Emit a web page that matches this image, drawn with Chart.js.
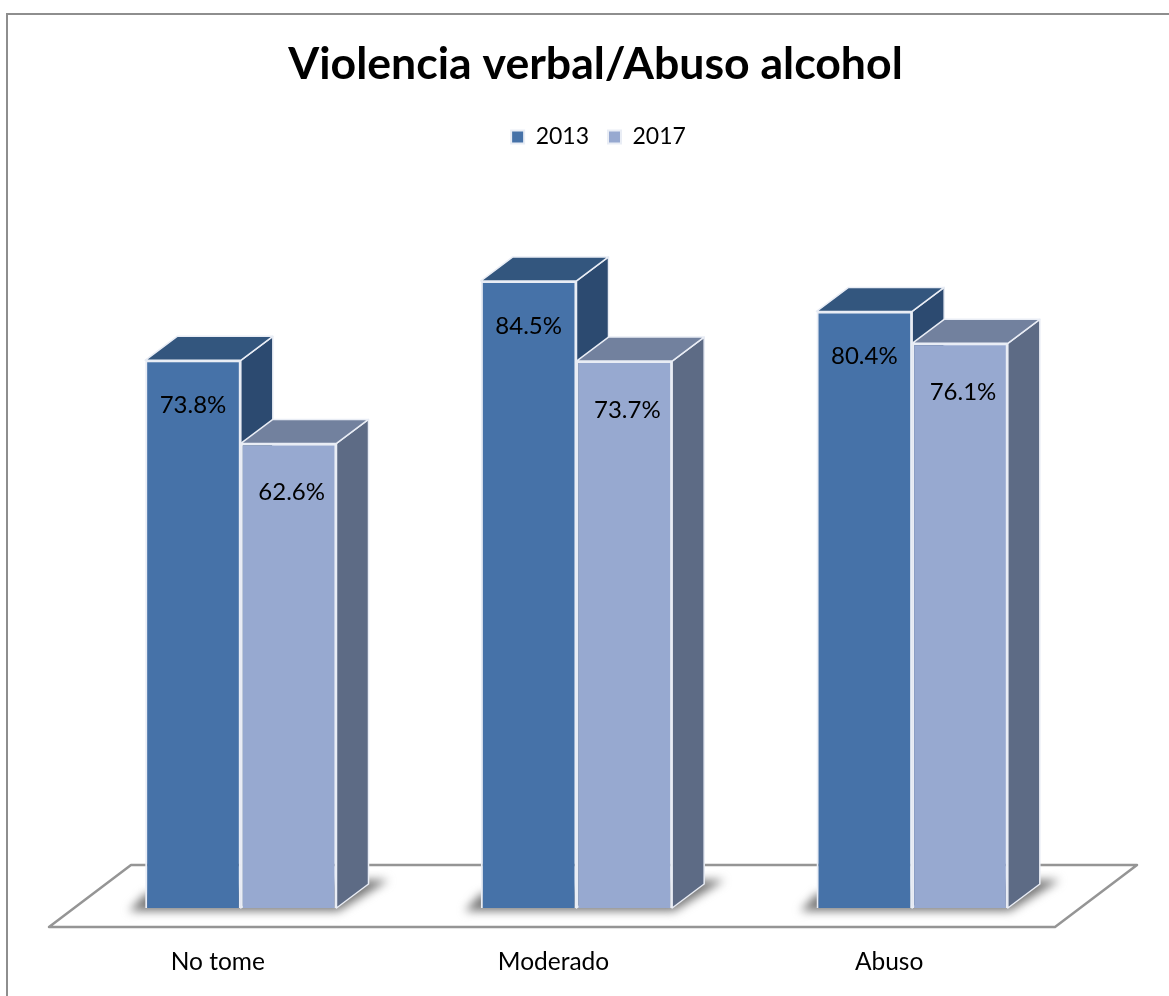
<!DOCTYPE html>
<html>
<head>
<meta charset="utf-8">
<script src="https://cdn.jsdelivr.net/npm/chart.js@4"></script>
<style>
    body { margin: 0; background: #fff; }
    #wrap { position: relative; width: 1169px; height: 996px; overflow: hidden; }
    #frame { position: absolute; left: 6px; top: 13px; width: 1200px; height: 1200px; border-left: 2px solid #8e8e8e; border-top: 2px solid #8e8e8e; pointer-events: none; }
    canvas { display: block; }
</style>
</head>
<body>
<div id="wrap">
    <canvas id="chart" width="1169" height="996"></canvas>
    <div id="frame"></div>
</div>
<script>
const categories = ['No tome', 'Moderado', 'Abuso'];
const seriesNames = ['2013', '2017'];
const values2013 = [73.8, 84.5, 80.4];
const values2017 = [62.6, 73.7, 76.1];

const frontColors = ['#4672A8', '#97A9D0'];
const sideColors = ['#2C4A70', '#5D6B85'];
const topColors = ['#33567E', '#72819E'];
const edgeColor = '#E9EDF5';
const depthX = 32;
const depthY = 24;

function face(ctx, points, fill) {
    ctx.beginPath();
    points.forEach(([x, y], i) => i ? ctx.lineTo(x, y) : ctx.moveTo(x, y));
    ctx.closePath();
    ctx.fillStyle = fill;
    ctx.fill();
    ctx.strokeStyle = edgeColor;
    ctx.lineWidth = 1.5;
    ctx.stroke();
}

// floor, shadows and the side/top faces of the bars, all under the bar fronts
const box3d = {
    id: 'box3d',
    afterLayout(chart) {
        // legend sits a bit right of the title in the original
        chart.legend.left += 3;
        chart.legend.right += 3;
    },
    beforeDatasetsDraw(chart) {
        const ctx = chart.ctx;
        const area = chart.chartArea;
        const metas = [chart.getDatasetMeta(0), chart.getDatasetMeta(1)];
        const halfBar = metas[0].data[0].width / 2;

        ctx.save();
        ctx.beginPath();
        ctx.moveTo(area.left - 24, area.bottom + 19);
        ctx.lineTo(area.left + 58, area.bottom - 43);
        ctx.lineTo(area.right + 57, area.bottom - 43);
        ctx.lineTo(area.right - 25, area.bottom + 19);
        ctx.closePath();
        ctx.fillStyle = '#fff';
        ctx.fill();
        ctx.strokeStyle = '#959595';
        ctx.lineWidth = 2.5;
        ctx.lineJoin = 'round';
        ctx.stroke();

        categories.forEach((c, i) => {
            const left = metas[0].data[i].x - halfBar;
            const right = metas[1].data[i].x + halfBar;
            const base = area.bottom;
            ctx.save();
            ctx.filter = 'blur(5px)';
            ctx.beginPath();
            ctx.moveTo(left - 16, base + 3);
            ctx.lineTo(left, base - 14);
            ctx.lineTo(right + depthX, base - 28);
            ctx.lineTo(right + depthX + 20, base - 28);
            ctx.lineTo(right + 2, base + 3);
            ctx.closePath();
            ctx.fillStyle = '#777777';
            ctx.fill();
            ctx.restore();
        });

        categories.forEach((c, i) => {
            metas.forEach((meta, s) => {
                const bar = meta.data[i];
                const x0 = bar.x - halfBar;
                const x1 = bar.x + halfBar;
                face(ctx, [[x1, bar.y], [x1 + depthX, bar.y - depthY], [x1 + depthX, bar.base - depthY], [x1, bar.base]], sideColors[s]);
                face(ctx, [[x0, bar.y], [x0 + depthX, bar.y - depthY], [x1 + depthX, bar.y - depthY], [x1, bar.y]], topColors[s]);
            });
        });
        ctx.restore();
    },
    afterDatasetsDraw(chart) {
        const ctx = chart.ctx;
        ctx.save();
        ctx.font = '24px Lato';
        ctx.fillStyle = '#000';
        ctx.textAlign = 'center';
        ctx.textBaseline = 'middle';
        chart.data.datasets.forEach((ds, s) => {
            chart.getDatasetMeta(s).data.forEach((bar, i) => {
                ctx.fillText(ds.data[i].toFixed(1) + '%', bar.x + s * 3, bar.y + 45 + s * 4);
            });
        });
        ctx.restore();
    }
};

new Chart(document.getElementById('chart').getContext('2d'), {
    type: 'bar',
    data: {
        labels: categories,
        datasets: [
            { label: seriesNames[0], data: values2013, backgroundColor: frontColors[0], borderColor: edgeColor, borderWidth: 2 },
            { label: seriesNames[1], data: values2017, backgroundColor: frontColors[1], borderColor: edgeColor, borderWidth: 2 }
        ]
    },
    options: {
        responsive: false,
        animation: false,
        layout: { padding: { left: 22, right: 0, top: 38, bottom: 0 } },
        categoryPercentage: 0.57,
        barPercentage: 1,
        plugins: {
            title: {
                display: true,
                text: 'Violencia verbal/Abuso alcohol',
                color: '#000',
                font: { family: 'Lato', size: 44.6, weight: 'bold' },
                padding: { top: 0, bottom: 15 }
            },
            legend: {
                labels: {
                    color: '#000',
                    font: { family: 'Lato', size: 23 },
                    boxWidth: 13,
                    boxHeight: 13,
                    padding: 19
                }
            },
            tooltip: { enabled: false }
        },
        scales: {
            x: {
                grid: { display: false },
                border: { display: false },
                ticks: { color: '#000', font: { family: 'Lato', size: 24.5 }, padding: 31, labelOffset: -23, maxRotation: 0 },
                afterFit(scale) { scale.height = 88; }
            },
            y: {
                min: 0,
                max: 101,
                grid: { display: false },
                border: { display: false },
                ticks: { display: false },
                afterFit(scale) { scale.width = 51; }
            },
            yRight: {
                position: 'right',
                grid: { display: false },
                border: { display: false },
                ticks: { display: false },
                afterFit(scale) { scale.width = 89; }
            }
        }
    },
    plugins: [box3d]
});
</script>
</body>
</html>
